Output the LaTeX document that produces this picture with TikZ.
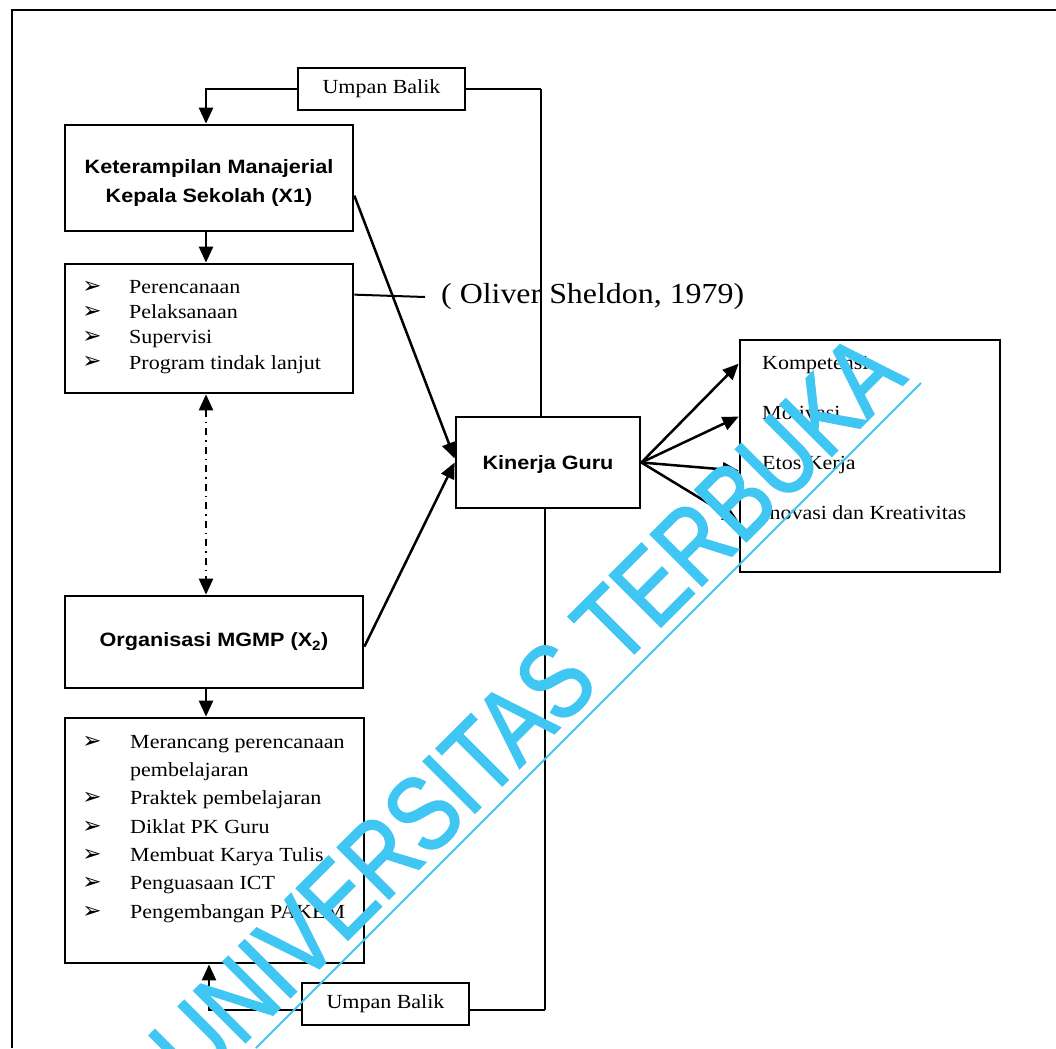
\documentclass[tikz,border=0pt]{standalone}
\usepackage{fontspec}
\setmainfont{Liberation Serif}
\newfontfamily\serifx[FakeStretch=1.1]{Liberation Serif}
\newfontfamily\sansx[FakeStretch=1.12]{Liberation Sans}
\newfontfamily\wmfont[FakeStretch=0.82,FakeBold=1.6]{Liberation Sans}
\newfontfamily\dingfont{DejaVu Sans}
\usetikzlibrary{arrows.meta,calc}
\definecolor{wmcol}{RGB}{64,198,242}
\begin{document}
\begin{tikzpicture}[x=1pt,y=-1pt,
 box/.style={draw,line width=2.7pt,inner sep=0pt},
 conn/.style={line width=2.5pt},
 thinline/.style={line width=1.4pt},
 tip/.style={-{Triangle[length=16pt,width=14pt]}},
 lbl/.style={font=\serifx\fontsize{20}{23}\selectfont,anchor=base west,inner sep=0pt},
 bul/.style={font=\dingfont\fontsize{23}{25}\selectfont,inner sep=0pt},
 hd/.style={font=\sansx\bfseries\fontsize{19.3}{29}\selectfont,align=center},
 ubstyle/.style={box,minimum width=167pt,minimum height=42pt,font=\serifx\fontsize{20}{24}\selectfont},
]
\useasboundingbox (0,0) rectangle (1056,1048);
\fill[white] (0,0) rectangle (1056,1048);
% outer frame
\draw[line width=2.7pt] (12,1048) -- (12,10) -- (1056,10);

% boxes
\node[ubstyle] (ub1) at (381.5,89) {Umpan Balik};
\node[box,minimum width=288pt,minimum height=106pt] (x1) at (209,178) {};
\node[hd,inner sep=0pt] (x1t) at (209,183) {Keterampilan Manajerial\\Kepala Sekolah (X1)};
\node[box,minimum width=288pt,minimum height=129pt] (l1) at (209,328.5) {};
\node[box,hd,minimum width=298pt,minimum height=92pt] (mg) at (214,642) {Organisasi MGMP (X\textsubscript{2})};
\node[box,minimum width=299pt,minimum height=245pt] (l2) at (214.5,840.5) {};
\node[ubstyle] (ub2) at (385.5,1004) {Umpan Balik};
\node[box,minimum width=184pt,minimum height=91pt] (kin) at (548,462.5) {};
\node[hd,inner sep=0pt] (kint) at (548,465) {Kinerja Guru};
\node[box,minimum width=260pt,minimum height=232pt] (out) at (870,456) {};

% list 1
\node[bul] (b1a) at (92,287) {➢};
\node[bul] (b1b) at (92,312) {➢};
\node[bul] (b1c) at (92,337) {➢};
\node[bul] (b1d) at (92,362) {➢};
\node[lbl] (t1a) at (129,293.5) {Perencanaan};
\node[lbl] (t1b) at (129,318.5) {Pelaksanaan};
\node[lbl] (t1c) at (129,343.5) {Supervisi};
\node[lbl] (t1d) at (129,369) {Program tindak lanjut};

% list 2
\node[bul] (b2a) at (92,742) {➢};
\node[bul] (b2c) at (92,798) {➢};
\node[bul] (b2d) at (92,827) {➢};
\node[bul] (b2e) at (92,855) {➢};
\node[bul] (b2f) at (92,883) {➢};
\node[bul] (b2g) at (92,912) {➢};
\node[lbl] (t2a) at (130,748.5) {Merancang perencanaan};
\node[lbl] (t2b) at (130,776.5) {pembelajaran};
\node[lbl] (t2c) at (130,804.5) {Praktek pembelajaran};
\node[lbl] (t2d) at (130,833.5) {Diklat PK Guru};
\node[lbl] (t2e) at (130,861.5) {Membuat Karya Tulis};
\node[lbl] (t2f) at (130,889.5) {Penguasaan ICT};
\node[lbl] (t2g) at (130,918.5) {Pengembangan PAKEM};

% outputs
\node[lbl] (o1) at (762,369.5) {Kompetensi};
\node[lbl] (o2) at (762,419.5) {Motivasi};
\node[lbl] (o3) at (762,469.5) {Etos Kerja};
\node[lbl] (o4) at (762,519.5) {Inovasi dan Kreativitas};

% source
\node[anchor=west,inner sep=0pt,font=\serifx\fontsize{29}{33}\selectfont] (src) at (441,297) {( Oliver Sheldon, 1979)};
\draw[line width=2pt] ($(l1.north east)+(0,32)$) -- ($(src.west)+(-16,0)$);

% feedback connectors
\coordinate (c1) at (206,89);
\coordinate (c2) at (541,89);
\draw[conn,tip] (ub1.west) -- (c1) -- (x1.north -| c1);
\draw[conn] (ub1.east) -- (c2);
\draw[thinline] (c2) -- (kin.north -| c2);
\coordinate (c3) at (209,1010);
\coordinate (c4) at (545,1010);
\draw[conn,tip] ($(ub2.west)+(0,6)$) -- (c3) -- (l2.south -| c3);
\draw[conn] ($(ub2.east)+(0,6)$) -- (c4);
\draw[thinline] (c4) -- (kin.south -| c4);

% vertical arrows
\draw[conn,tip] (x1.south -| c1) -- (l1.north -| c1);
\draw[conn,tip] (mg.south -| c1) -- (l2.north -| c1);
\draw[line width=2.5pt,dash pattern=on 7pt off 5pt on 1.5pt off 5pt,{Triangle[length=16pt,width=14pt]}-{Triangle[length=16pt,width=14pt]}] (l1.south -| c1) -- (mg.north -| c1);

% into Kinerja
\draw[conn,tip] ($(x1.north east)+(0,72)$) -- ($(kin.west)+(0,-4)$);
\draw[conn,tip] ($(mg.north east)+(0,52)$) -- ($(kin.west)+(0,0)$);

% fan
\draw[conn,tip] (kin.east) -- ($(out.north west)+(0,25)$);
\draw[conn,tip] (kin.east) -- ($(out.north west)+(0,78)$);
\draw[conn,tip] (kin.east) -- ($(out.north west)+(0,132)$);
\draw[conn,tip] (kin.east) -- ($(out.north west)+(0,183)$);

% watermark
\node[rotate=45,anchor=base west,inner sep=0pt,font=\wmfont\fontsize{106}{106}\selectfont,text=wmcol] (wmark) at (196,1092) {UNIVERSITAS TERBUKA};
\coordinate (w1) at (256,1048);
\coordinate (w2) at (921,383);
\draw[wmcol,line width=1.8pt] (w1) -- (w2);
\end{tikzpicture}
\end{document}
